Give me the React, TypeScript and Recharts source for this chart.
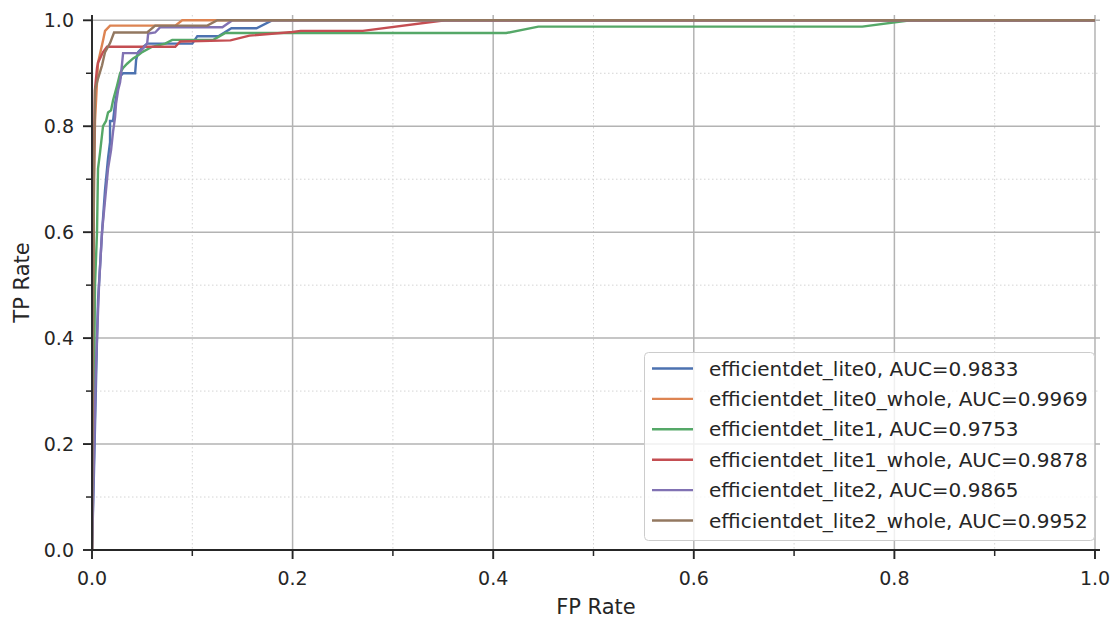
import React from "react";
import { LineChart, Line, XAxis, YAxis, CartesianGrid, Legend } from "recharts";

// ROC points (false positive rate / true positive rate) per model
const lite0Fpr = [0, 0.002, 0.005, 0.006, 0.01, 0.013, 0.016, 0.018, 0.018, 0.021, 0.023, 0.026, 0.029, 0.031, 0.043, 0.044, 0.046, 0.051, 0.055, 0.1, 0.105, 0.126, 0.139, 0.164, 0.18, 1.0];
const lite0Tpr = [0, 0.15, 0.4, 0.47, 0.6, 0.68, 0.74, 0.77, 0.81, 0.81, 0.843, 0.877, 0.896, 0.9, 0.9, 0.925, 0.94, 0.95, 0.956, 0.956, 0.97, 0.97, 0.985, 0.985, 1.0, 1.0];

const lite0WholeFpr = [0, 0.001, 0.002, 0.003, 0.006, 0.011, 0.013, 0.018, 0.083, 0.09, 1.0];
const lite0WholeTpr = [0, 0.45, 0.7, 0.81, 0.92, 0.962, 0.98, 0.99, 0.99, 1.0, 1.0];

const lite1Fpr = [0, 0.002, 0.003, 0.005, 0.006, 0.008, 0.011, 0.014, 0.016, 0.019, 0.021, 0.025, 0.028, 0.031, 0.035, 0.041, 0.046, 0.05, 0.06, 0.073, 0.08, 0.121, 0.133, 0.413, 0.445, 0.768, 0.816, 1.0];
const lite1Tpr = [0, 0.3, 0.5, 0.6, 0.72, 0.75, 0.8, 0.81, 0.826, 0.83, 0.849, 0.877, 0.9, 0.91, 0.918, 0.928, 0.934, 0.94, 0.95, 0.956, 0.963, 0.963, 0.976, 0.976, 0.988, 0.988, 1.0, 1.0];

const lite1WholeFpr = [0, 0.001, 0.002, 0.003, 0.005, 0.006, 0.011, 0.015, 0.083, 0.088, 0.138, 0.157, 0.2, 0.208, 0.27, 0.352, 1.0];
const lite1WholeTpr = [0, 0.5, 0.75, 0.87, 0.91, 0.92, 0.94, 0.95, 0.95, 0.96, 0.962, 0.971, 0.978, 0.98, 0.98, 1.0, 1.0];

const lite2Fpr = [0, 0.004, 0.007, 0.01, 0.013, 0.016, 0.019, 0.021, 0.023, 0.024, 0.026, 0.028, 0.029, 0.031, 0.046, 0.051, 0.055, 0.056, 0.063, 0.068, 0.13, 0.14, 1.0];
const lite2Tpr = [0, 0.35, 0.5, 0.6, 0.66, 0.72, 0.755, 0.79, 0.817, 0.843, 0.868, 0.883, 0.9, 0.938, 0.938, 0.947, 0.956, 0.975, 0.977, 0.987, 0.987, 1.0, 1.0];

const lite2WholeFpr = [0, 0.001, 0.002, 0.003, 0.006, 0.01, 0.013, 0.018, 0.022, 0.055, 0.063, 0.115, 0.125, 1.0];
const lite2WholeTpr = [0, 0.4, 0.7, 0.868, 0.89, 0.915, 0.94, 0.957, 0.977, 0.977, 0.99, 0.99, 1.0, 1.0];

const modelNames = [
  "efficientdet_lite0",
  "efficientdet_lite0_whole",
  "efficientdet_lite1",
  "efficientdet_lite1_whole",
  "efficientdet_lite2",
  "efficientdet_lite2_whole",
];
const aucScores = [0.9833, 0.9969, 0.9753, 0.9878, 0.9865, 0.9952];
const palette = ["#4c72b0", "#dd8452", "#55a868", "#c44e52", "#8172b3", "#937860"];

const axisTicks = [0, 0.1, 0.2, 0.3, 0.4, 0.5, 0.6, 0.7, 0.8, 0.9, 1.0];
const majorTicks = [0, 0.2, 0.4, 0.6, 0.8, 1.0];
const minorTicks = [0.1, 0.3, 0.5, 0.7, 0.9];

const FONT = "DejaVu Sans";
const INK = "#262626";

const toPoints = (fpr: number[], tpr: number[]) =>
  fpr.map((x, i) => ({ fpr: x, tpr: tpr[i] }));

const curveData = [
  toPoints(lite0Fpr, lite0Tpr),
  toPoints(lite0WholeFpr, lite0WholeTpr),
  toPoints(lite1Fpr, lite1Tpr),
  toPoints(lite1WholeFpr, lite1WholeTpr),
  toPoints(lite2Fpr, lite2Tpr),
  toPoints(lite2WholeFpr, lite2WholeTpr),
];

const curves = modelNames.map((name, i) => ({
  name,
  label: `${name}, AUC=${aucScores[i].toFixed(4)}`,
  color: palette[i],
  data: curveData[i],
}));

const isMajor = (v: number) => Math.round(v * 10) % 2 === 0;

function XTick({ x, y, payload }: any) {
  const v = payload.value as number;
  const major = isMajor(v);
  return (
    <g>
      <line x1={x} x2={x} y1={y} y2={y + (major ? 9 : 6)} stroke={INK} strokeWidth={major ? 1.9 : 1.5} />
      {major && (
        <text x={x} y={y + 35} textAnchor="middle" fill={INK} fontSize={19} fontFamily={FONT}>
          {v.toFixed(1)}
        </text>
      )}
    </g>
  );
}

function YTick({ x, y, payload }: any) {
  const v = payload.value as number;
  const major = isMajor(v);
  return (
    <g>
      <line x1={x} x2={x - (major ? 9 : 6)} y1={y} y2={y} stroke={INK} strokeWidth={major ? 1.9 : 1.5} />
      {major && (
        <text x={x - 18} y={y + 7} textAnchor="end" fill={INK} fontSize={19} fontFamily={FONT}>
          {v.toFixed(1)}
        </text>
      )}
    </g>
  );
}

function LegendBox() {
  const rowGap = 30.4;
  return (
    <svg width={452} height={190} style={{ display: "block" }}>
      <rect x={0.5} y={0.5} width={450} height={188} rx={4} fill="#ffffff" fillOpacity={0.8} stroke="#cccccc" strokeWidth={1} />
      {curves.map((c, i) => {
        const cy = 16.5 + i * rowGap;
        return (
          <g key={c.name}>
            <line x1={8} x2={49} y1={cy} y2={cy} stroke={c.color} strokeWidth={2.4} />
            <text x={65} y={cy + 7} fill={INK} fontSize={20} fontFamily={FONT}>
              {c.label}
            </text>
          </g>
        );
      })}
    </svg>
  );
}

export default function App() {
  return (
    <div style={{ position: "absolute", left: 0, top: 0, background: "#fff" }}>
      <LineChart width={1120} height={621} margin={{ top: 15, right: 20, bottom: 0, left: 0 }}>
        <CartesianGrid
          horizontalValues={minorTicks}
          verticalValues={minorTicks}
          stroke="#d4d4d4"
          strokeWidth={1}
          strokeDasharray="1.5 2.5"
        />
        <CartesianGrid
          horizontalValues={majorTicks}
          verticalValues={majorTicks}
          stroke="#b3b3b3"
          strokeWidth={1.5}
        />
        <XAxis
          type="number"
          dataKey="fpr"
          domain={[0, 1.005]}
          ticks={axisTicks}
          interval={0}
          height={71}
          tickSize={0}
          tickMargin={0}
          tickLine={false}
          tick={<XTick />}
          axisLine={{ stroke: INK, strokeWidth: 1.9 }}
          allowDataOverflow
          label={(props: any) => {
            const vb = props.viewBox;
            return (
              <text x={vb.x + vb.width / 2} y={vb.y + 64} textAnchor="middle" fill={INK} fontSize={21} fontFamily={FONT}>
                FP Rate
              </text>
            );
          }}
        />
        <YAxis
          type="number"
          dataKey="tpr"
          domain={[0, 1.01]}
          ticks={axisTicks}
          interval={0}
          width={92}
          tickSize={0}
          tickMargin={0}
          tickLine={false}
          tick={<YTick />}
          axisLine={{ stroke: INK, strokeWidth: 1.9 }}
          allowDataOverflow
          label={(props: any) => {
            const vb = props.viewBox;
            const cx = vb.x + 29;
            const cy = vb.y + vb.height / 2;
            return (
              <text x={cx} y={cy} transform={`rotate(-90 ${cx} ${cy})`} textAnchor="middle" fill={INK} fontSize={21} fontFamily={FONT}>
                TP Rate
              </text>
            );
          }}
        />
        {curves.map((c) => (
          <Line
            key={c.name}
            data={c.data}
            dataKey="tpr"
            name={c.label}
            type="linear"
            stroke={c.color}
            strokeWidth={2.4}
            dot={false}
            activeDot={false}
            isAnimationActive={false}
          />
        ))}
        <Legend
          layout="vertical"
          align="center"
          verticalAlign="middle"
          wrapperStyle={{ left: 644, top: 352, width: 452, height: 190 }}
          content={() => <LegendBox />}
        />
      </LineChart>
    </div>
  );
}
